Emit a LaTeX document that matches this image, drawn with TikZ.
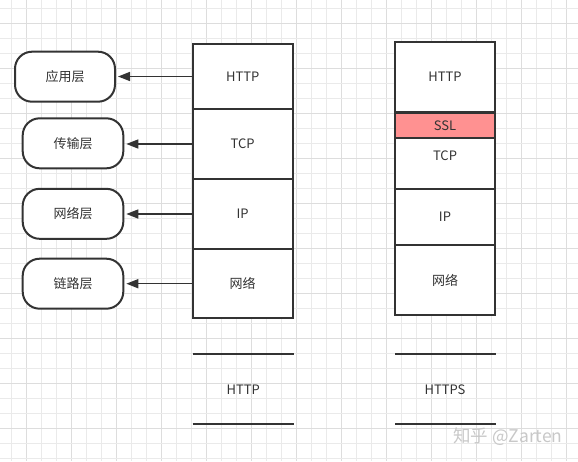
\documentclass[tikz,border=0pt]{standalone}
\usepackage{fontspec}
\newfontfamily\cjk{Noto Sans CJK SC}
\usetikzlibrary{arrows.meta,calc}
\definecolor{ink}{HTML}{333333}
\definecolor{gridc}{HTML}{EAEAEA}
\definecolor{gridd}{HTML}{DDDDDD}
\definecolor{sslred}{HTML}{FF9191}
\definecolor{wm}{HTML}{C8C8C8}
\begin{document}
\begin{tikzpicture}[x=1pt,y=-1pt,
  lbl/.style={font=\cjk\fontsize{13}{15}\selectfont},
  cell/.style={lbl,draw=ink,line width=2pt,minimum width=100pt,inner sep=0pt,text=ink},
  layer/.style={lbl,draw=ink,line width=2pt,rounded corners=17pt,minimum height=50pt,inner sep=0pt,text=ink},
  txt/.style={lbl,text=ink,inner sep=0pt},
  arr/.style={draw=ink,line width=1.5pt,-{Triangle[length=12pt,width=9pt]}},
  rulel/.style={draw=ink,line width=2pt}]
\path[use as bounding box] (0,0) rectangle (578,461);
\fill[white] (0,0) rectangle (578,461);
% grid
\foreach \k in {0,...,38}{
  \pgfmathtruncatemacro{\m}{mod(\k,3)}
  \ifnum\m=1 \def\gc{gridd}\else\def\gc{gridc}\fi
  \draw[\gc,line width=0.6pt] ({11.7+15*\k},0) -- ({11.7+15*\k},461);
}
\foreach \k in {0,...,30}{
  \pgfmathtruncatemacro{\m}{mod(\k,3)}
  \ifnum\m=1 \def\gc{gridd}\else\def\gc{gridc}\fi
  \draw[\gc,line width=0.6pt] (0,{8.3+15*\k}) -- (578,{8.3+15*\k});
}
% left stack
\node[cell,fill=white,minimum height=65pt] (h1) at (242.7,76.5) {HTTP};
\node[cell,fill=white,minimum height=70pt] (t1) at (242.7,144) {TCP};
\node[cell,fill=white,minimum height=70pt] (i1) at (242.7,214) {IP};
\node[cell,fill=white,minimum height=69.3pt] (n1) at (242.7,283.7) {网络};
% layer labels
\node[layer,fill=white,minimum width=100pt] (a1) at (65,76.7) {应用层};
\node[layer,fill=white,minimum width=100.6pt] (a2) at (73,143.3) {传输层};
\node[layer,fill=white,minimum width=100.6pt] (a3) at (73,213.8) {网络层};
\node[layer,fill=white,minimum width=100.6pt] (a4) at (73,283.7) {链路层};
% arrows
\draw[arr] (h1.west) -- ([xshift=2pt]h1.west -| a1.east);
\draw[arr] (t1.west) -- ([xshift=2pt]t1.west -| a2.east);
\draw[arr] (i1.west) -- ([xshift=2pt]i1.west -| a3.east);
\draw[arr] (n1.west) -- ([xshift=2pt]n1.west -| a4.east);
% right stack
\node[cell,fill=white,minimum height=70pt] (h2) at (445,76.7) {HTTP};
\node[cell,fill=white,minimum height=51.3pt] (t2) at (445,163.35) {};
\node[txt] (t2t) at (445,156) {TCP};
\node[cell,fill=sslred,minimum height=24.9pt] (s2) at (445,125.25) {SSL};
\node[cell,fill=white,minimum height=56pt] (i2) at (445,217) {IP};
\node[cell,fill=white,minimum height=70pt] (n2) at (445,280) {网络};
% bottom legend
\coordinate (la) at (192.7,354);
\coordinate (lb) at (294,354);
\coordinate (lc) at (192.7,424);
\coordinate (ld) at (294,424);
\coordinate (ra) at (395,354);
\coordinate (rb) at (495.7,354);
\coordinate (rc) at (395,424);
\coordinate (rd) at (495.7,424);
\draw[rulel] (la) -- (lb);
\draw[rulel] (lc) -- (ld);
\draw[rulel] (ra) -- (rb);
\draw[rulel] (rc) -- (rd);
\node[txt] (hl) at (243.3,389.3) {HTTP};
\node[txt] (hs) at (445,389.3) {HTTPS};
% watermark
\node[text=wm,inner sep=0pt,font=\cjk\fontsize{17.5}{20}\selectfont] (wmk) at (508,436.7) {知乎 @Zarten};
\end{tikzpicture}
\end{document}
